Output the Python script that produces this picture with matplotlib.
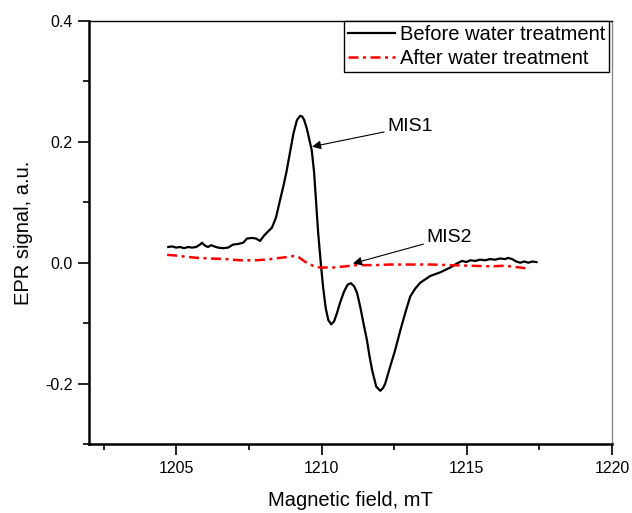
import matplotlib
matplotlib.use('Agg')
from matplotlib import pyplot as plt
from matplotlib.ticker import MultipleLocator, FuncFormatter

plt.rcParams['font.family'] = ['Liberation Sans', 'DejaVu Sans']

# EPR spectrum before water treatment
field_before = [1204.72, 1204.85, 1204.99, 1205.13, 1205.26, 1205.40, 1205.54, 1205.68, 1205.81,
                1205.88, 1205.99, 1206.09, 1206.19, 1206.30, 1206.43, 1206.61, 1206.78, 1206.95,
                1207.12, 1207.30, 1207.43, 1207.61, 1207.74, 1207.88, 1208.02, 1208.16, 1208.29,
                1208.43, 1208.57, 1208.69, 1208.80, 1208.92, 1209.03, 1209.15, 1209.26, 1209.33,
                1209.40, 1209.49, 1209.57, 1209.66, 1209.74, 1209.81, 1209.88, 1209.97, 1210.05,
                1210.14, 1210.23, 1210.33, 1210.43, 1210.53, 1210.63, 1210.77, 1210.90, 1211.01,
                1211.12, 1211.22, 1211.33, 1211.44, 1211.56, 1211.65, 1211.74, 1211.88, 1212.02,
                1212.12, 1212.19, 1212.36, 1212.53, 1212.71, 1212.88, 1213.05, 1213.22, 1213.40,
                1213.74, 1214.08, 1214.43, 1214.67, 1214.84, 1214.98, 1215.12, 1215.29, 1215.46,
                1215.63, 1215.80, 1215.97, 1216.15, 1216.32, 1216.42, 1216.56, 1216.70, 1216.84,
                1216.98, 1217.12, 1217.26, 1217.40]
signal_before = [0.026, 0.027, 0.025, 0.026, 0.024, 0.026, 0.025, 0.026, 0.030,
                 0.033, 0.028, 0.026, 0.029, 0.027, 0.025, 0.024, 0.025, 0.030,
                 0.031, 0.033, 0.040, 0.041, 0.040, 0.036, 0.045, 0.052, 0.058,
                 0.075, 0.104, 0.128, 0.153, 0.185, 0.214, 0.236, 0.243, 0.242,
                 0.236, 0.222, 0.205, 0.186, 0.150, 0.100, 0.050, 0.000, -0.040,
                 -0.075, -0.095, -0.102, -0.097, -0.083, -0.067, -0.048, -0.036, -0.034,
                 -0.039, -0.050, -0.073, -0.100, -0.128, -0.155, -0.178, -0.205, -0.212,
                 -0.207, -0.200, -0.172, -0.145, -0.112, -0.083, -0.056, -0.043, -0.033,
                 -0.022, -0.016, -0.008, -0.001, 0.003, 0.001, 0.004, 0.003, 0.005,
                 0.004, 0.006, 0.005, 0.007, 0.006, 0.008, 0.006, 0.002, 0.000,
                 0.002, 0.000, 0.002, 0.001]

# EPR spectrum after water treatment
field_after = [1204.68, 1204.95, 1205.30, 1205.71, 1206.16, 1206.68, 1207.19, 1207.71, 1208.05,
               1208.40, 1208.74, 1209.02, 1209.19, 1209.43, 1209.70, 1209.94, 1210.39, 1210.81,
               1211.22, 1211.84, 1212.36, 1213.05, 1213.74, 1214.43, 1215.12, 1215.80, 1216.32,
               1216.66, 1217.01, 1217.18]
signal_after = [0.013, 0.012, 0.010, 0.008, 0.007, 0.006, 0.004, 0.004, 0.005,
                0.007, 0.009, 0.011, 0.010, 0.0015, -0.005, -0.008, -0.008, -0.006,
                -0.004, -0.004, -0.003, -0.003, -0.003, -0.004, -0.005, -0.006, -0.005,
                -0.007, -0.009, -0.009]

fig = plt.figure(figsize=(6.32, 5.13), dpi=100)
ax = fig.add_axes([0.1413, 0.1345, 0.8271, 0.8246])

ax.plot(field_before, signal_before, color='black', lw=1.6, label='Before water treatment')
ax.plot(field_after, signal_after, color='red', lw=1.8, ls=(0, (4, 1.8, 1.2, 1.8)),
        label='After water treatment')

ax.set_xlim(1202, 1220)
ax.set_ylim(-0.3, 0.4)
ax.xaxis.set_major_locator(MultipleLocator(5))
ax.xaxis.set_minor_locator(MultipleLocator(2.5))
ax.yaxis.set_major_locator(MultipleLocator(0.2))
ax.yaxis.set_minor_locator(MultipleLocator(0.1))
ax.yaxis.set_major_formatter(FuncFormatter(lambda v, p: f'{v:.1f}'.replace('−', '-')))
ax.tick_params(which='both', direction='out', labelsize=11.5, top=False, right=False)
ax.tick_params(which='major', length=8, width=1.2, pad=4)
ax.tick_params(which='minor', length=4, width=1.2)

ax.spines['left'].set_linewidth(1.8)
ax.spines['bottom'].set_linewidth(1.8)
ax.spines['top'].set_linewidth(1.0)
ax.spines['right'].set_linewidth(1.0)
ax.spines['right'].set_color('#888888')

ax.set_xlabel('Magnetic field, mT', fontsize=14.5, labelpad=11)
ax.set_ylabel('EPR signal, a.u.', fontsize=14.5, labelpad=9)

arrow = dict(arrowstyle='-|>', color='black', lw=0.8, mutation_scale=13, shrinkA=0, shrinkB=0)
ax.annotate('MIS1', xy=(1209.67, 0.192), xytext=(1212.25, 0.225), fontsize=14,
            va='center', ha='left', arrowprops=arrow)
ax.annotate('MIS2', xy=(1211.08, -0.0013), xytext=(1213.6, 0.0424), fontsize=14,
            va='center', ha='left', arrowprops=arrow)

leg = ax.legend(loc='upper right', bbox_to_anchor=(0.9943, 1.0), fontsize=14.5,
                fancybox=False, edgecolor='black', framealpha=1, borderaxespad=0,
                borderpad=0.2, handlelength=2.3, handletextpad=0.25, labelspacing=0.25)
leg.get_frame().set_linewidth(1.0)

fig.savefig('out.png', dpi=100)
